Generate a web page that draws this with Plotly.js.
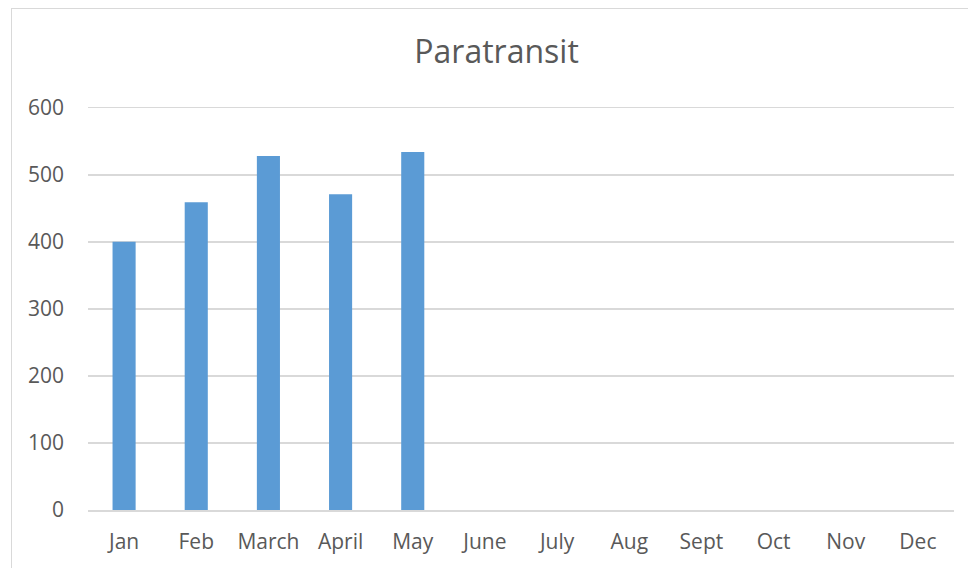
<!DOCTYPE html>
<html>
<head>
<meta charset="utf-8">
<script src="https://cdn.plot.ly/plotly-3.0.1.min.js"></script>
<style>
html,body{margin:0;padding:0;background:#fff;overflow:hidden;}
#wrap{position:relative;width:968px;height:568px;}
#chart{width:968px;height:568px;}
#frame{position:absolute;left:11px;top:8px;width:980px;height:600px;border:1.5px solid #d9d9d9;pointer-events:none;box-sizing:border-box;}
</style>
</head>
<body>
<div id="wrap"><div id="chart"></div><div id="frame"></div></div>
<script>
const months = ["Jan","Feb","March","April","May","June","July","Aug","Sept","Oct","Nov","Dec"];
const riders = [400, 459, 528, 471, 534, null, null, null, null, null, null, null];
const yTicks = [0, 100, 200, 300, 400, 500, 600];

const trace = {
  type: 'bar',
  x: months,
  y: riders,
  marker: {color: '#5b9bd5'},
  hoverinfo: 'x+y'
};

const layout = {
  width: 968, height: 568,
  margin: {l: 88, r: 14, t: 101, b: 58},
  paper_bgcolor: '#ffffff',
  plot_bgcolor: '#ffffff',
  bargap: 0.68,
  showlegend: false,
  title: {
    text: 'Paratransit',
    font: {family: 'Open Sans, sans-serif', size: 32, color: '#595959'},
    x: 0.513, xanchor: 'center',
    y: 1 - 52/568, yanchor: 'middle', yref: 'container'
  },
  xaxis: {
    type: 'category',
    categoryarray: months,
    categoryorder: 'array',
    tickfont: {family: 'Open Sans, sans-serif', size: 21, color: '#595959'},
    showgrid: false,
    showline: true, linecolor: '#d9d9d9', linewidth: 1.5,
    ticks: '',
    ticklabelstandoff: 12,
    fixedrange: true
  },
  yaxis: {
    range: [0, 610],
    tickvals: yTicks,
    ticktext: yTicks.map(String),
    tickfont: {family: 'Open Sans, sans-serif', size: 21, color: '#595959'},
    showgrid: true, gridcolor: '#d9d9d9', gridwidth: 1.5,
    zeroline: false,
    showline: false,
    ticks: '',
    ticklabelstandoff: 23,
    fixedrange: true
  }
};

Plotly.newPlot('chart', [trace], layout, {displayModeBar: false, staticPlot: true});
</script>
</body>
</html>
